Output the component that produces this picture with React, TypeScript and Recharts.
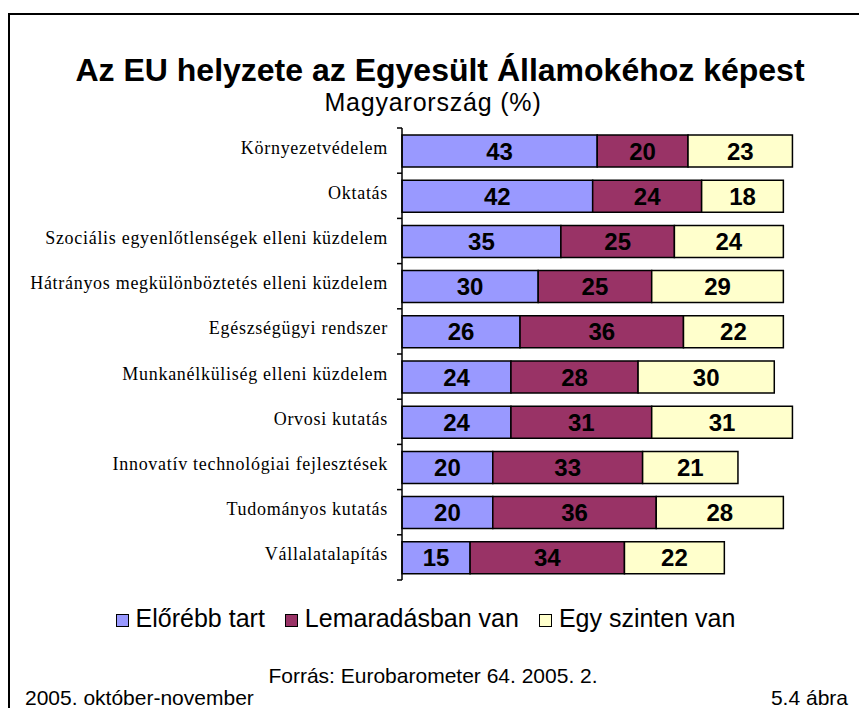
import React from 'react';
import { BarChart, Bar, XAxis, YAxis, LabelList, Legend } from 'recharts';

const categories = [
  'Környezetvédelem',
  'Oktatás',
  'Szociális egyenlőtlenségek elleni küzdelem',
  'Hátrányos megkülönböztetés elleni küzdelem',
  'Egészségügyi rendszer',
  'Munkanélküliség elleni küzdelem',
  'Orvosi kutatás',
  'Innovatív technológiai fejlesztések',
  'Tudományos kutatás',
  'Vállalatalapítás',
];
const ahead = [43, 42, 35, 30, 26, 24, 24, 20, 20, 15];
const behind = [20, 24, 25, 25, 36, 28, 31, 33, 36, 34];
const equal = [23, 18, 24, 29, 22, 30, 31, 21, 28, 22];

const seriesNames = ['Előrébb tart', 'Lemaradásban van', 'Egy szinten van'];
const seriesColors = ['#9999FF', '#993366', '#FFFFCC'];
const seriesKeys = ['ahead', 'behind', 'equal'];

const title = 'Az EU helyzete az Egyesült Államokéhoz képest';
const subtitle = 'Magyarország (%)';
const source = 'Forrás: Eurobarometer 64. 2005. 2.';
const period = '2005. október-november';
const figure = '5.4 ábra';

const data = categories.map((name, i) => ({
  name,
  ahead: ahead[i],
  behind: behind[i],
  equal: equal[i],
}));

const W = 859;
const H = 708;
const M_TOP = 128;
const M_BOTTOM = 128;
const PLOT_H = H - M_TOP - M_BOTTOM;
const BAND = PLOT_H / categories.length;
const SANS = '"Liberation Sans", Arial, sans-serif';
const SERIF = '"Liberation Serif", "Times New Roman", serif';

const CategoryTick = (props: any) => {
  const { x, y, payload, index } = props;
  const axisX = x + 14;
  return (
    <g>
      <line x1={axisX - 5} x2={axisX} y1={y - BAND / 2} y2={y - BAND / 2} stroke="#000" strokeWidth={1.5} />
      {index === categories.length - 1 && (
        <line x1={axisX - 5} x2={axisX} y1={y + BAND / 2} y2={y + BAND / 2} stroke="#000" strokeWidth={1.5} />
      )}
      <text
        x={x}
        y={y}
        dy={3}
        textAnchor="end"
        fontFamily={SERIF}
        fontSize={18}
        letterSpacing={0.7}
        fill="#000"
      >
        {payload.value}
      </text>
    </g>
  );
};

const LegendContent = () => (
  <div
    style={{
      display: 'flex',
      justifyContent: 'center',
      alignItems: 'center',
      fontFamily: SANS,
      fontSize: 25,
      color: '#000',
      width: W,
      paddingRight: 8,
      boxSizing: 'border-box',
    }}
  >
    {seriesNames.map((n, i) => (
      <div key={n} style={{ display: 'flex', alignItems: 'center', marginRight: i < 2 ? 20 : 0 }}>
        <span
          style={{
            display: 'inline-block',
            width: 11,
            height: 11,
            background: seriesColors[i],
            border: '1.5px solid #000',
            marginRight: 7,
            marginTop: 3,
          }}
        />
        <span>{n}</span>
      </div>
    ))}
  </div>
);

export default function App() {
  return (
    <div style={{ position: 'absolute', left: 0, top: 0, width: W, height: H, overflow: 'hidden', background: '#fff' }}>
      <div
        style={{
          position: 'absolute',
          left: 8,
          top: 13,
          width: 1000,
          height: 1000,
          borderLeft: '2px solid #000',
          borderTop: '2px solid #000',
        }}
      />
      <svg width={W} height={H} style={{ position: 'absolute', left: 0, top: 0 }}>
        <text x={440} y={81} textAnchor="middle" fontFamily={SANS} fontWeight="bold" fontSize={32} fill="#000">
          {title}
        </text>
        <text x={433} y={111} textAnchor="middle" fontFamily={SANS} fontSize={25} letterSpacing={0.8} fill="#000">
          {subtitle}
        </text>
        <text x={433} y={683} textAnchor="middle" fontFamily={SANS} fontSize={21} fill="#000">
          {source}
        </text>
        <text x={25} y={705} textAnchor="start" fontFamily={SANS} fontSize={21} fill="#000">
          {period}
        </text>
        <text x={848} y={705} textAnchor="end" fontFamily={SANS} fontSize={21} fill="#000">
          {figure}
        </text>
      </svg>
      <div style={{ position: 'absolute', left: 0, top: 0 }}>
        <BarChart
          width={W}
          height={H}
          data={data}
          layout="vertical"
          margin={{ top: M_TOP, right: 3, bottom: M_BOTTOM, left: 0 }}
          barSize={32}
        >
          <XAxis type="number" domain={[0, 100]} hide />
          <YAxis
            type="category"
            dataKey="name"
            width={402}
            axisLine={{ stroke: '#000', strokeWidth: 1.5 }}
            tickLine={false}
            tickSize={5}
            tickMargin={9}
            tick={<CategoryTick />}
            interval={0}
          />
          <Legend
            verticalAlign="middle"
            align="center"
            layout="horizontal"
            wrapperStyle={{ top: 604, left: 0, width: W }}
            content={<LegendContent />}
          />
          {seriesKeys.map((k, i) => (
            <Bar
              key={k}
              dataKey={k}
              name={seriesNames[i]}
              stackId="a"
              fill={seriesColors[i]}
              stroke="#000"
              strokeWidth={1.5}
              isAnimationActive={false}
            >
              <LabelList
                dataKey={k}
                position="center"
                fill="#000"
                fontFamily={SANS}
                fontWeight="bold"
                fontSize={24}
              />
            </Bar>
          ))}
        </BarChart>
      </div>
    </div>
  );
}
